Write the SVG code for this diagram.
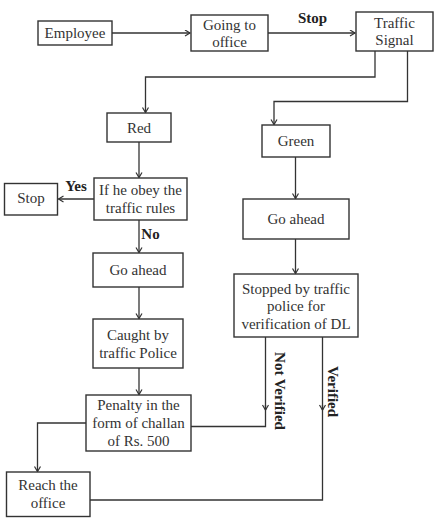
<svg xmlns="http://www.w3.org/2000/svg" width="440" height="523" viewBox="0 0 440 523">
<defs>
<marker id="arr" markerWidth="8" markerHeight="8" refX="6" refY="3.5" orient="auto" markerUnits="userSpaceOnUse">
<path d="M1,0.5 L6,3.5 L1,6.5" fill="none" stroke="#333" stroke-width="1.2"/>
</marker>
</defs>
<style>
rect{fill:#fff;stroke:#333;stroke-width:1.4}
text{font-family:"Liberation Serif","Times New Roman",serif;font-size:15px;fill:#333;text-anchor:middle}
.b{font-weight:bold;fill:#222}
.c{fill:none;stroke:#333;stroke-width:1.3}
</style>
<g id="connectors">
<path class="c" d="M112,33 H190" marker-end="url(#arr)"/>
<path class="c" d="M268,33 H355" marker-end="url(#arr)"/>
<path class="c" d="M375,51 V77 H145.5 V112.5" marker-end="url(#arr)"/>
<path class="c" d="M407.5,51 V101.5 H274 V124.5" marker-end="url(#arr)"/>
<path class="c" d="M139,142 V177.5" marker-end="url(#arr)"/>
<path class="c" d="M94,199 H58.5" marker-end="url(#arr)"/>
<path class="c" d="M139,220 V252.5" marker-end="url(#arr)"/>
<path class="c" d="M139,287 V318.5" marker-end="url(#arr)"/>
<path class="c" d="M139,368 V394.5" marker-end="url(#arr)"/>
<path class="c" d="M295.5,157 V198.5" marker-end="url(#arr)"/>
<path class="c" d="M295.5,239 V273.5" marker-end="url(#arr)"/>
<path class="c" d="M265.5,337 V410" marker-end="url(#arr)"/>
<path class="c" d="M265.5,405 V426.5 H191"/>
<path class="c" d="M322.5,337 V410" marker-end="url(#arr)"/>
<path class="c" d="M322.5,405 V500 H90"/>
<path class="c" d="M86,423 H37.5 V471.5" marker-end="url(#arr)"/>
<text class="b" x="312.5" y="23">Stop</text>
<text class="b" x="76" y="191">Yes</text>
<text class="b" x="150.5" y="238.5">No</text>
<text class="b" transform="translate(274.5,391) rotate(90)" x="0" y="0">Not Verified</text>
<text class="b" transform="translate(328,391.5) rotate(90)" x="0" y="0">Verified</text>
</g>
<g id="employee"><rect x="38" y="21" width="74" height="24"/><text x="75" y="37.5">Employee</text></g>
<g id="going"><rect x="191" y="15" width="77" height="36"/><text x="229.5" y="29.5">Going to</text><text x="229.5" y="46.5">office</text></g>
<g id="signal"><rect x="356" y="12" width="77" height="39"/><text x="394.5" y="28">Traffic</text><text x="394.5" y="45">Signal</text></g>
<g id="red"><rect x="107" y="113" width="64" height="29"/><text x="139" y="133">Red</text></g>
<g id="green"><rect x="262" y="125" width="68" height="32"/><text x="296" y="146">Green</text></g>
<g id="obey"><rect x="94" y="178" width="93" height="42"/><text x="140.5" y="195">If he obey the</text><text x="140.5" y="212.5">traffic rules</text></g>
<g id="stop"><rect x="4.5" y="183.5" width="53" height="31.5"/><text x="31" y="203">Stop</text></g>
<g id="goahead-right"><rect x="243" y="199" width="106" height="40"/><text x="296" y="224">Go ahead</text></g>
<g id="goahead-left"><rect x="93" y="253" width="90" height="34"/><text x="138" y="275">Go ahead</text></g>
<g id="caught"><rect x="93" y="319" width="90" height="49"/><text x="138" y="340">Caught by</text><text x="138" y="357.5">traffic Police</text></g>
<g id="stopped"><rect x="234" y="274" width="124" height="63"/><text x="296" y="293.5">Stopped by traffic</text><text x="296" y="311">police for</text><text x="296" y="328.5">verification of DL</text></g>
<g id="penalty"><rect x="86" y="395" width="105" height="56"/><text x="138.5" y="410">Penalty in the</text><text x="138.5" y="428">form of challan</text><text x="138.5" y="446">of Rs. 500</text></g>
<g id="reach"><rect x="6.5" y="472" width="83.5" height="44.5"/><text x="48" y="490">Reach the</text><text x="48" y="508">office</text></g>
</svg>
